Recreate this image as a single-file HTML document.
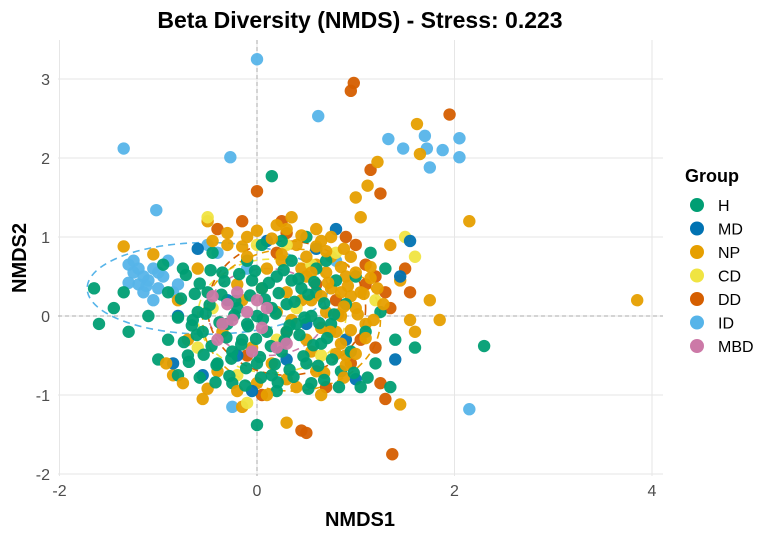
<!DOCTYPE html>
<html><head><meta charset="utf-8"><style>
body{margin:0;background:#fff}
svg{display:block;font-family:"Liberation Sans",sans-serif}
</style></head><body>
<svg id="chart" width="776" height="536">
<text x="360" y="28" text-anchor="middle" font-size="23" font-weight="bold" fill="#000">Beta Diversity (NMDS) - Stress: 0.223</text>
<g id="grid"></g>
<g id="ellipses"></g>
<g id="points"></g>
<g id="axes"></g>
<text x="360" y="526" text-anchor="middle" font-size="20" font-weight="bold">NMDS1</text>
<text transform="translate(26,258) rotate(-90)" text-anchor="middle" font-size="20" font-weight="bold">NMDS2</text>
<g id="legend">
<text x="685" y="182" font-size="18" font-weight="bold">Group</text>
</g>
</svg>
<script>
const groups=["H","MD","NP","CD","DD","ID","MBD"];
const colors=["#009E73","#0072B2","#E69F00","#F0E442","#D55E00","#56B4E9","#CC79A7"];
const xTicks=[-2,0,2,4];
const yTicks=[-2,-1,0,1,2,3];
const idX=[0,0.62,-0.27,-1.35,-1.02,1.33,1.48,1.7,1.75,1.88,2.05,2.05,1.72,-1.3,-1.25,-1.15,-1.2,-1.1,-1.05,-1.3,-1.0,-0.95,-1.15,-0.9,-0.5,-0.25,2.15,-0.1,-1.05,-1.2,-0.4,0.8,-1.25,-0.8,-1.12,-1.0,-0.85];
const idY=[3.25,2.53,2.01,2.12,1.34,2.24,2.12,2.28,1.88,2.1,2.25,2.01,2.12,0.65,0.55,0.5,0.4,0.45,0.6,0.42,0.35,0.5,0.3,0.7,0.9,-1.15,-1.18,0.6,0.2,0.6,0.8,0.7,0.7,0.4,0.38,0.55,0.3];
const ddX=[0.98,0.95,1.95,0,1.37,0.45,0.5,1.3,1.2,1.3,1.05,1.0,1.1,0.8,0.6,-0.1,0.2,0.3,1.35,1.55,1.2,0.95,1.1,-0.4,0.25,0.9,1.5,1.25,0.05,0.7,1.15,1.25,-0.15,0.3];
const ddY=[2.95,2.85,2.55,1.58,-1.75,-1.45,-1.48,-1.05,0.5,0.3,-0.3,0.9,0.65,0.2,0.4,-0.5,0.8,-0.2,0.1,0.3,-0.4,-0.6,0.4,1.1,1.2,1.0,0.6,-0.85,-1.0,-0.9,1.85,1.55,1.2,1.05];
const npX=[1.62,1.65,2.15,3.85,1.22,1.12,1.0,1.05,1.35,1.55,1.85,1.45,0.3,-0.55,0.65,-0.85,-0.15,-0.5,0.2,0.6,0.75,0.9,0.5,0.3,0.1,-0.2,-0.3,0.4,0.7,0.55,0.8,0.9,0.6,0.3,0.0,-0.4,-0.7,-0.8,-0.6,-0.1,0.45,0.2,-0.05,0.5,1.0,1.1,0.95,-0.35,0.15,0.65,1.75,1.45,1.6,0.35,-0.15,0.05,0.7,0.85,-1.35,-1.05,0.6,0.75,0.85,0.45,0.55,0.95,1.05,0.35,0.25,0.65];
const npY=[2.43,2.05,1.2,0.2,1.95,1.65,1.5,1.25,0.9,-0.05,-0.05,-1.12,-1.35,-1.05,-1.0,-0.75,-1.15,1.2,1.15,1.1,0.75,0.5,0.5,0.3,0.6,0.4,0.9,0.9,0.55,0.2,-0.2,-0.5,-0.7,-0.8,-0.85,-0.7,-0.3,0.2,0.6,1.0,0.6,0.05,-0.4,-0.3,0.1,-0.1,0.75,-0.2,-0.6,0.95,0.2,0.45,-0.2,1.25,0.2,0.35,0.05,0.3,0.88,0.78,0.65,0.35,0.0,0.2,-0.45,0.25,0.3,-0.05,0.7,-0.15];
const npCoreX=[0.85,1.0,1.15,0.92,1.08,1.22,0.88,1.02,1.18,0.95,1.1,0.85,1.0,0.9,1.15,1.28,-0.45,-0.3,-0.15,0.0,0.15,0.3,0.45,0.6,0.75,0.88,-0.1,0.25,0.5,0.7,0.55,0.72,0.65,0.82,0.74,0.8,0.68,0.88,0.4,-0.2,-0.5,0.1,-0.75,-0.92];
const npCoreY=[0.62,0.55,0.48,0.38,0.28,0.35,0.12,0.02,-0.05,-0.18,-0.28,-0.35,-0.48,-0.62,0.62,0.15,0.95,1.05,0.88,1.08,0.98,1.1,1.02,0.88,1.0,0.85,0.75,0.78,0.75,0.82,0.55,0.42,0.25,0.02,-0.2,-0.48,-0.72,-0.78,-0.9,-0.95,-0.92,-1.0,-0.85,-0.6];
const cdX=[-0.5,1.5,1.6,-0.1,0.3,0.55,-0.45,0.2,0.8,-0.2,0.4,1.2,0.0,-0.6,0.65];
const cdY=[1.25,1.0,0.75,-1.1,0.9,0.65,0.1,-0.3,0.8,-0.75,0.1,0.2,0.9,-0.4,-0.5];
const mdX=[1.55,1.4,-0.85,0.8,-0.3,0.3,-0.6,0.5,0.1,1.0,-0.8,1.45,0.9,-0.2,0.6,-0.55,-0.05];
const mdY=[0.95,-0.55,-0.6,1.1,0.2,-0.55,0.85,-0.1,0.95,-0.8,0.0,0.5,-0.3,-0.5,0.85,-0.75,-0.95];
const hX=[0.15,2.3,0,-1.65,-1.6,-1.45,-1.3,-1.35,-1.1,-0.9,-0.9,-0.75,-0.7,-0.55,-0.5,-0.4,-0.35,-0.3,-0.2,-0.15,-0.1,0.0,0.0,0.05,0.1,0.15,0.2,0.25,0.3,0.35,0.4,0.45,0.5,0.55,0.6,0.65,0.7,0.75,0.8,0.85,0.9,0.95,1.0,1.1,1.15,1.2,1.3,1.4,1.6,1.25,-0.6,-0.25,0.2,0.55,-0.8,-0.45,0.05,0.5,-0.65,-0.05,0.3,-0.25,0.15,0.6,1.05,-1.0,-0.95,1.35,-0.1,0.35,0.25];
const hY=[1.77,-0.38,-1.38,0.35,-0.1,0.1,-0.2,0.3,0.0,-0.3,0.3,0.6,-0.5,-0.2,0.3,-0.6,0.55,-0.1,0.1,-0.3,0.7,0.0,-0.6,0.35,-0.2,-0.75,0.5,-0.45,0.15,0.7,-0.1,0.35,-0.6,0.0,0.3,-0.35,0.7,-0.1,0.45,-0.7,0.15,-0.45,0.5,-0.2,0.8,-0.6,0.6,-0.3,-0.4,0.05,0.05,-0.85,-0.95,-0.85,-0.75,0.8,0.9,1.0,-0.05,0.45,-0.2,-0.45,0.1,0.6,-0.9,-0.55,0.65,-0.9,-0.1,0.45,0.95];
const hCoreX=[-0.72,-0.58,-0.47,-0.33,-0.18,-0.02,0.12,0.27,0.42,0.58,-0.77,-0.63,-0.48,-0.36,-0.22,-0.07,0.08,0.22,0.38,0.52,0.68,-0.8,-0.66,-0.52,-0.38,-0.23,-0.09,0.06,0.19,0.33,0.48,0.63,0.78,-0.74,-0.61,-0.46,-0.31,-0.16,-0.01,0.14,0.28,0.43,0.57,0.71,-0.69,-0.54,-0.41,-0.26,-0.11,0.03,0.18,0.33,0.47,0.62,0.76,-0.58,-0.42,-0.28,-0.12,0.04,0.21,0.37,0.52,0.68,0.83,0.98,1.12];
const hCoreY=[0.52,0.41,0.58,0.44,0.53,0.57,0.42,0.58,0.47,0.43,0.22,0.28,0.14,0.27,0.19,0.26,0.21,0.29,0.18,0.27,0.16,-0.02,-0.12,0.03,-0.08,0.01,-0.13,-0.04,0.03,-0.12,-0.02,-0.09,0.02,-0.33,-0.24,-0.38,-0.27,-0.36,-0.29,-0.38,-0.31,-0.24,-0.37,-0.28,-0.58,-0.49,-0.62,-0.54,-0.66,-0.52,-0.61,-0.68,-0.51,-0.63,-0.55,-0.78,-0.84,-0.76,-0.88,-0.78,-0.84,-0.77,-0.92,-0.81,-0.9,-0.72,-0.78];
const mbdX=[-0.3,-0.2,-0.1,0.0,-0.35,0.1,-0.45,-0.25,0.05,0.2,-0.05,0.3,-0.4];
const mbdY=[0.15,0.3,0.05,0.2,-0.1,0.1,0.25,-0.05,-0.15,-0.4,-0.45,-0.35,-0.3];
const ellCx=[-0.5,0.15,0.1,0.3,0.35];
const ellCy=[0.35,0.0,0.05,0.1,-0.05];
const ellRx=[1.22,0.75,0.6,0.8,0.9];
const ellRy=[0.58,0.72,0.55,0.85,0.9];
const ellColor=[5,3,6,4,2];

const L=58,R=663,T=40,B=476;
const sx=v=>257+v*98.75, sy=v=>316-v*79;
const NS="http://www.w3.org/2000/svg";
function mk(tag,attrs,parent){const e=document.createElementNS(NS,tag);for(const k in attrs)e.setAttribute(k,attrs[k]);parent.appendChild(e);return e;}
const grid=document.getElementById('grid'),axes=document.getElementById('axes');
xTicks.forEach(t=>{
 const l=mk('line',{x1:sx(t),x2:sx(t),y1:T,y2:B,stroke:'#e6e6e6','stroke-width':1},grid);
 
 
 const tx=mk('text',{x:sx(t),y:B+20,'text-anchor':'middle','font-size':16,fill:'#4d4d4d'},axes);
 tx.textContent=t;
 
 
});
yTicks.forEach(t=>{
 const l=mk('line',{x1:L,x2:R,y1:sy(t),y2:sy(t),stroke:'#e6e6e6','stroke-width':1},grid);
 
 
 const tx=mk('text',{x:L-8,y:sy(t)+6,'text-anchor':'end','font-size':16,fill:'#4d4d4d'},axes);
 tx.textContent=t;
 
 
});
const r0=mk('line',{x1:sx(0),x2:sx(0),y1:T,y2:B,stroke:'#aaa','stroke-dasharray':'4,3'},grid);


const r1=mk('line',{x1:L,x2:R,y1:sy(0),y2:sy(0),stroke:'#aaa','stroke-dasharray':'4,3'},grid);


const eg=document.getElementById('ellipses');
ellCx.forEach((cx,i)=>{
 const e=mk('ellipse',{cx:sx(cx),cy:sy(ellCy[i]),rx:ellRx[i]*98.75,ry:ellRy[i]*79,fill:'none',stroke:colors[ellColor[i]],'stroke-width':1.6,'stroke-dasharray':'7,5'},eg);
 
 
});
const pts=document.getElementById('points');
function drawGroup(xs,ys,gi){
 xs.forEach((x,i)=>{
  const c=mk('circle',{cx:sx(x),cy:sy(ys[i]),r:6.2,fill:colors[gi],'fill-opacity':0.95},pts);
  
  
 });
}
drawGroup(idX,idY,5);
drawGroup(ddX,ddY,4);
drawGroup(npX,npY,2);
drawGroup(cdX,cdY,3);
drawGroup(mdX,mdY,1);
drawGroup(hX,hY,0);
drawGroup(npCoreX,npCoreY,2);
drawGroup(hCoreX,hCoreY,0);
drawGroup(mbdX,mbdY,6);
const lg=document.getElementById('legend');
groups.forEach((g,i)=>{
 const y=205+i*23.5;
 const c=mk('circle',{cx:697,cy:y,r:7,fill:colors[i]},lg);
 
 
 const t=mk('text',{x:718,y:y+6,'font-size':16,fill:'#000'},lg);
 t.textContent=g;
 
 
});
</script>
</body></html>
